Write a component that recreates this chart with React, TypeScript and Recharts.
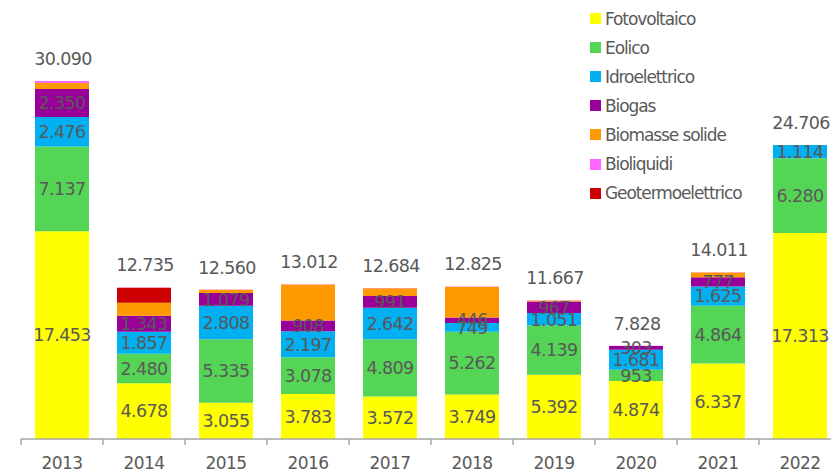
import React from 'react'
import { ComposedChart, Bar, Line, XAxis, YAxis, Legend, LabelList } from 'recharts'

const YEARS = ['2013', '2014', '2015', '2016', '2017', '2018', '2019', '2020', '2021', '2022']
const FOTOVOLTAICO = [17453, 4678, 3055, 3783, 3572, 3749, 5392, 4874, 6337, 17313]
const EOLICO = [7137, 2480, 5335, 3078, 4809, 5262, 4139, 953, 4864, 6280]
const IDROELETTRICO = [2476, 1857, 2808, 2197, 2642, 749, 1051, 1681, 1625, 1114]
const BIOGAS = [2350, 1343, 1079, 908, 991, 446, 967, 303, 777, 0]
const BIOMASSE = [500, 1100, 263, 3026, 650, 2600, 100, 10, 390, 0]
const GEOTERMO = [0, 1260, 0, 0, 0, 0, 0, 0, 0, 0]
const BIOLIQUIDI = [174, 17, 20, 20, 20, 19, 18, 7, 18, 0]
const TOTALI = [30090, 12735, 12560, 13012, 12684, 12825, 11667, 7828, 14011, 24706]

const data = YEARS.map((year, i) => ({
  year,
  fotovoltaico: FOTOVOLTAICO[i],
  eolico: EOLICO[i],
  idroelettrico: IDROELETTRICO[i],
  biogas: BIOGAS[i],
  biomasse: BIOMASSE[i],
  geotermo: GEOTERMO[i],
  bioliquidi: BIOLIQUIDI[i],
  total: TOTALI[i],
}))

// legend order (top to bottom)
const LEGEND = [
  { name: 'Fotovoltaico', color: '#FFFF00' },
  { name: 'Eolico', color: '#55D555' },
  { name: 'Idroelettrico', color: '#00B0F0' },
  { name: 'Biogas', color: '#990099' },
  { name: 'Biomasse solide', color: '#FF9900' },
  { name: 'Bioliquidi', color: '#FF66FF' },
  { name: 'Geotermoelettrico', color: '#CC0000' },
]

const FONT = '"DejaVu Sans", sans-serif'
const TEXT = '#595959'
const BAND = 82

function fmt(n: number) {
  if (!n) return ''
  return String(n).replace(/\B(?=(\d{3})+(?!\d))/g, '.')
}

function YearTick(props: any) {
  const { x, y, payload } = props
  return (
    <g>
      <line x1={x - BAND / 2} x2={x - BAND / 2} y1={y} y2={y + 6} stroke="#A6A6A6" strokeWidth={1.5} />
      <text x={x} y={y + 30} textAnchor="middle" fontFamily={FONT} fontSize={17} letterSpacing={-0.6} fill={TEXT}>
        {payload.value}
      </text>
    </g>
  )
}

function TotalLabel(props: any) {
  const { x, y, value } = props
  return (
    <text
      x={x + 1}
      y={y - 22}
      textAnchor="middle"
      dominantBaseline="central"
      fontFamily={FONT}
      fontSize={17.5}
      letterSpacing={-0.6}
      fill={TEXT}
    >
      {fmt(value)}
    </text>
  )
}

function LegendBox() {
  return (
    <div style={{ fontFamily: FONT, fontSize: 17, color: TEXT, letterSpacing: -1.1, textAlign: 'left' }}>
      {LEGEND.map(item => (
        <div key={item.name} style={{ display: 'flex', alignItems: 'center', height: 29.1, whiteSpace: 'nowrap' }}>
          <span style={{ width: 11, height: 11, backgroundColor: item.color, display: 'inline-block', marginRight: 4 }} />
          {item.name}
        </div>
      ))}
    </div>
  )
}

const segLabel = {
  position: 'center' as const,
  fill: TEXT,
  fontFamily: FONT,
  fontSize: 17.5,
  letterSpacing: -0.6,
  formatter: (v: any) => fmt(Number(v)),
}

export default function App() {
  return (
    <div style={{ position: 'absolute', left: 0, top: 0, width: 831, height: 470, overflow: 'hidden', background: '#fff' }}>
      <ComposedChart
        width={850}
        height={480}
        data={data}
        margin={{ top: 0, right: 9, left: 21, bottom: 0 }}
        barSize={54}
      >
        <XAxis
          dataKey="year"
          height={41}
          axisLine={{ stroke: '#A6A6A6', strokeWidth: 1.5 }}
          tickLine={false}
          tickSize={0}
          tickMargin={0}
          interval={0}
          tick={<YearTick />}
        />
        <YAxis hide domain={[0, 36900]} />
        <Legend
          verticalAlign="middle"
          align="center"
          layout="horizontal"
          content={<LegendBox />}
          wrapperStyle={{ position: 'absolute', left: 590, top: 4, width: 240, height: 204 }}
        />
        <Bar dataKey="fotovoltaico" stackId="a" fill="#FFFF00" isAnimationActive={false}>
          <LabelList dataKey="fotovoltaico" {...segLabel} />
        </Bar>
        <Bar dataKey="eolico" stackId="a" fill="#55D555" isAnimationActive={false}>
          <LabelList dataKey="eolico" {...segLabel} />
        </Bar>
        <Bar dataKey="idroelettrico" stackId="a" fill="#00B0F0" isAnimationActive={false}>
          <LabelList dataKey="idroelettrico" {...segLabel} />
        </Bar>
        <Bar dataKey="biogas" stackId="a" fill="#990099" isAnimationActive={false}>
          <LabelList dataKey="biogas" {...segLabel} />
        </Bar>
        <Bar dataKey="biomasse" stackId="a" fill="#FF9900" isAnimationActive={false} />
        <Bar dataKey="geotermo" stackId="a" fill="#CC0000" isAnimationActive={false} />
        <Bar dataKey="bioliquidi" stackId="a" fill="#FF66FF" isAnimationActive={false} />
        <Line
          dataKey="total"
          stroke="none"
          dot={false}
          activeDot={false}
          legendType="none"
          isAnimationActive={false}
        >
          <LabelList dataKey="total" content={<TotalLabel />} />
        </Line>
      </ComposedChart>
    </div>
  )
}
